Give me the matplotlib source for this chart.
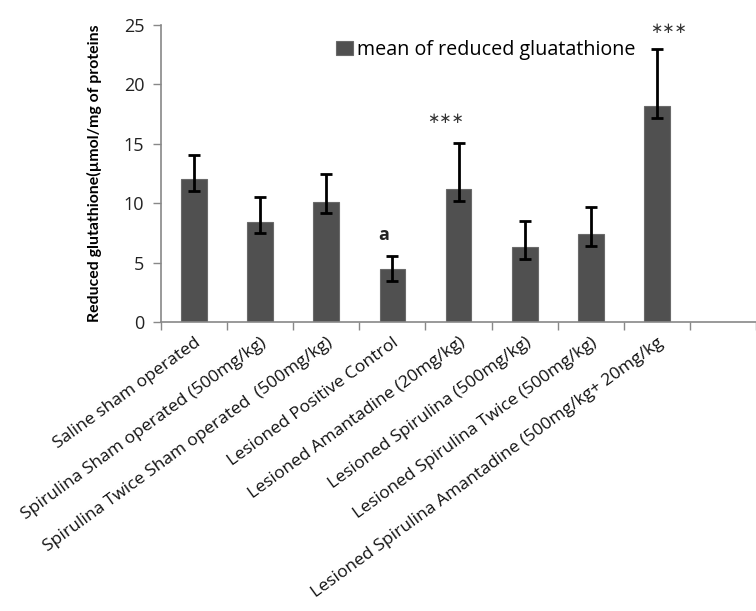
import matplotlib
matplotlib.use("Agg")
import matplotlib.pyplot as plt
import numpy as np

categories = ["Saline sham operated",
              "Spirulina Sham operated (500mg/kg)",
              "Spirulina Twice Sham operated  (500mg/kg)",
              "Lesioned Positive Control",
              "Lesioned Amantadine (20mg/kg)",
              "Lesioned Spirulina (500mg/kg)",
              "Lesioned Spirulina Twice (500mg/kg)",
              "Lesioned Spirulina Amantadine (500mg/kg+ 20mg/kg",
              ""]
means = [12.05, 8.4, 10.13, 4.43, 11.2, 6.29, 7.41, 18.18]
err_upper = [2.05, 2.15, 2.33, 1.1, 3.87, 2.18, 2.24, 4.8]
err_lower = [1.0, 0.93, 0.98, 0.98, 1.0, 0.96, 0.98, 0.98]
annotations = ["", "", "", "a", "∗∗∗", "", "", "∗∗∗"]
ann_y = [0, 0, 0, 7.3, 17.1, 0, 0, 24.7]
ann_dx = [0, 0, 0, -0.13, -0.2, 0, 0, 0.17]
yticks = [0, 5, 10, 15, 20, 25]

plt.rcParams['font.family'] = ['Open Sans', 'DejaVu Sans']

fig = plt.figure(figsize=(7.56, 6.11), dpi=100)
ax = fig.add_axes([0.213, 0.473, 0.787, 0.486])

x = np.arange(len(means))
ax.bar(x, means, width=0.39, color='#505050', edgecolor='#6a6a6a', linewidth=0.8,
       label='mean of reduced gluatathione', zorder=2)
ax.errorbar(x, means, yerr=[err_lower, err_upper], fmt='none', ecolor='black',
            elinewidth=2, capsize=4.5, capthick=2, zorder=3)

for xi, t, yy, dx in zip(x, annotations, ann_y, ann_dx):
    if t:
        if t == 'a':
            ax.text(xi + dx, yy, t, ha='center', va='center', fontsize=13,
                    fontweight='bold', color='#222222')
        else:
            ax.text(xi + dx, yy, t, ha='center', va='center', fontsize=10.5,
                    color='#333333', family='DejaVu Sans')

ax.set_xlim(-0.5, 8.35)
ax.set_ylim(0, 25)
ax.set_yticks(yticks)
ax.set_yticklabels([str(v) for v in yticks], fontsize=13, color='#222222')
ax.tick_params(axis='y', length=6, width=1, color='#888888', pad=6)

ax.set_xticks(np.arange(len(categories)))
ax.set_xticklabels(categories, rotation=36, ha='right', va='top',
                   rotation_mode='anchor', fontsize=12.6, color='#111111')
ax.tick_params(axis='x', which='major', length=0, pad=9)
ax.set_xticks(np.arange(len(categories) + 1) - 0.5, minor=True)
ax.tick_params(axis='x', which='minor', length=6, width=1, color='#888888')

for s in ['top', 'right']:
    ax.spines[s].set_visible(False)
for s in ['left', 'bottom']:
    ax.spines[s].set_color('#888888')
    ax.spines[s].set_linewidth(1.2)

ax.set_ylabel('Reduced glutathione(µmol/mg of proteins', fontsize=11.4,
              fontweight='bold', family=['Lato', 'DejaVu Sans'])
ax.yaxis.set_label_coords(-0.1, 0.5)

leg = ax.legend(loc='upper left', bbox_to_anchor=(0.265, 1.01), frameon=False,
                fontsize=14.2, handlelength=0.85, handleheight=0.7,
                handletextpad=0.2)

fig.savefig('out.png', dpi=100)
